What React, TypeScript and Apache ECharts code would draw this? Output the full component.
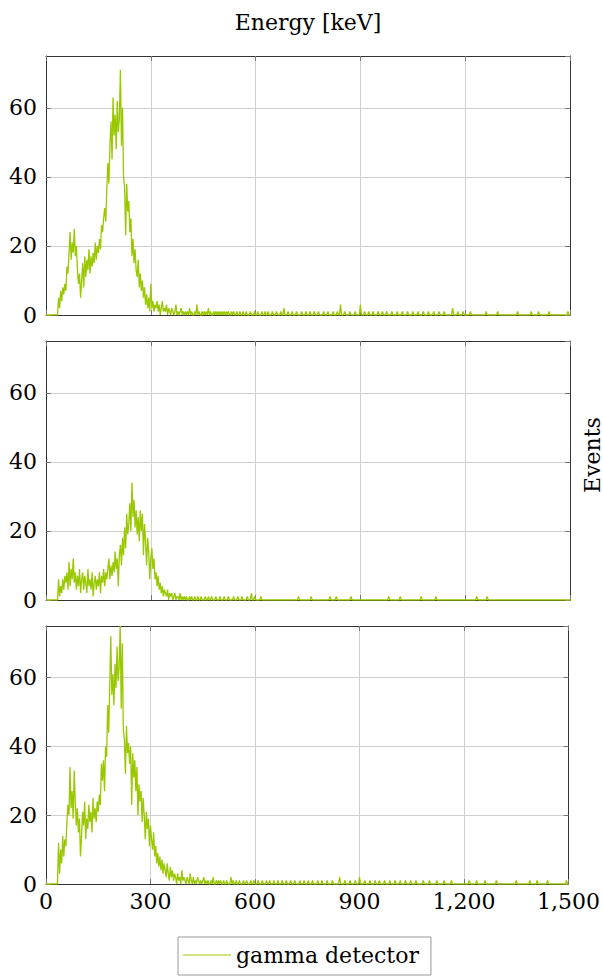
import React, { useEffect, useRef } from 'react';
import * as echarts from 'echarts';

// ---- data ----
const BIN = 3; // keV per bin
const MAIN_START = 36; // keV of first value in the dense arrays
const X_MAX = 1500;
const Y_MAX = 75;
const SERIES_NAME = 'gamma detector';
const X_LABEL = 'Energy [keV]';
const Y_LABEL = 'Events';

// Panel 1 counts, 36..450 keV, step 3 keV
const panel1Main = [
  5, 2, 7, 4, 8, 6, 9, 7,
  14, 12, 18, 24,
  16, 21, 18, 25, 17, 20,
  13, 9, 12, 5, 10,
  15, 8, 17, 11, 16, 13,
  19, 12, 17, 14, 18, 15, 21,
  16, 20, 18, 22, 19, 26,
  24, 28, 31, 27, 36,
  44, 38, 49, 56, 45,
  63, 52, 58, 48, 62, 53, 57,
  71, 49, 60, 40,
  37, 23, 38, 30, 33, 24,
  28, 17, 22, 15, 19, 13,
  11, 16, 8, 12, 7, 10, 5,
  8, 3, 6, 2, 5, 1, 9,
  2, 4, 1, 3, 2, 4, 1, 3, 0, 2, 4, 1, 2,
  1, 3, 0, 2, 1, 0, 2, 1, 0, 1, 3, 0, 1, 0, 1, 2, 0, 1, 0, 1,
  0, 1, 0, 2, 0, 1, 0, 0, 1, 0, 3, 0, 1, 0, 0, 1, 0,
];
// Panel 1 sparse tail [keV, counts]
const panel1Tail: [number, number][] = [
  [453, 1], [459, 1], [465, 2], [471, 1], [480, 1], [486, 1], [492, 1], [498, 1], [504, 1], [510, 1],
  [516, 1], [522, 1], [531, 1], [537, 1], [546, 1], [555, 1], [564, 1], [573, 1], [585, 1], [597, 1],
  [606, 1], [618, 1], [627, 1], [636, 1], [648, 1], [660, 1], [672, 1], [681, 2], [693, 1], [705, 1],
  [717, 1], [732, 1], [744, 1], [756, 1], [768, 1], [780, 1], [795, 1], [807, 1], [822, 1], [834, 1],
  [843, 3], [855, 1], [870, 1], [885, 1], [900, 3], [912, 1], [924, 1], [936, 1], [951, 1], [963, 1],
  [975, 1], [990, 1], [1005, 1], [1020, 1], [1035, 1], [1050, 1], [1065, 1], [1080, 1], [1095, 1],
  [1110, 1], [1125, 1], [1140, 1], [1164, 2], [1179, 1], [1194, 1], [1215, 1], [1260, 1], [1293, 1],
  [1350, 1], [1389, 1], [1410, 1], [1440, 1], [1494, 1],
];

// Panel 2
const panel2Main = [
  6, 1, 4, 2, 6, 3, 7, 5,
  8, 3, 11, 4,
  9, 6, 12, 5, 8, 3,
  7, 4, 9, 2, 6,
  8, 3, 7, 5, 2, 9,
  4, 6, 3, 8, 1, 5, 7,
  3, 6, 4, 8, 2, 7,
  5, 9, 4, 8, 6,
  9, 12, 6, 10, 7,
  11, 8, 14, 9, 12, 4, 13,
  16, 10, 18, 13,
  21, 15, 25, 19, 22, 28,
  20, 34, 24, 29, 21, 26,
  19, 24, 17, 26, 20, 25, 13,
  22, 17, 10, 18, 14, 6, 12,
  15, 9, 12, 6, 8, 4, 7, 3, 5, 2, 4, 1, 3,
  2, 1, 3, 0, 2, 1, 2, 0, 1, 2, 0, 1, 1, 0, 2, 0, 1, 0, 1, 0,
  1, 0, 0, 1, 0, 1, 0, 0, 1, 0, 0, 1, 0, 0, 1, 0, 0,
];
const panel2Tail: [number, number][] = [
  [456, 1], [465, 1], [474, 1], [486, 1], [498, 1], [510, 1], [522, 1], [537, 1], [549, 1], [561, 1],
  [576, 1], [588, 2], [597, 1], [615, 1], [723, 1], [759, 1], [813, 1], [831, 1], [873, 1], [981, 1],
  [1014, 1], [1074, 1], [1116, 1], [1233, 1], [1263, 1],
];

// Panel 3
const panel3Main = [
  12, 3, 10, 6, 14, 8, 13, 11,
  18, 23, 20, 34,
  22, 27, 19, 33, 24, 17,
  22, 15, 19, 8, 14,
  21, 17, 24, 13, 19, 16,
  23, 18, 21, 15, 25, 19, 22,
  18, 24, 21, 26, 23, 35,
  30, 36, 27, 40, 37,
  52, 44, 58, 72, 55,
  61, 52, 64, 57, 69, 59, 63,
  75, 51, 70, 45,
  42, 32, 46, 38, 41, 35,
  40, 23, 38, 31, 36, 27,
  34, 20, 29, 24, 27, 18, 25,
  20, 13, 21, 16, 19, 11, 17,
  13, 10, 15, 8, 11, 6, 9, 5, 8, 4, 7, 3, 6,
  4, 2, 6, 3, 1, 5, 2, 4, 1, 3, 2, 0, 3, 1, 2, 0, 4, 1, 2, 1,
  0, 2, 1, 0, 3, 1, 0, 2, 0, 1, 0, 2, 1, 0, 1, 0, 1,
];
const panel3Tail: [number, number][] = [
  [453, 2], [459, 1], [465, 1], [474, 1], [480, 2], [489, 1], [495, 1], [501, 1], [510, 1], [519, 1],
  [531, 2], [537, 1], [546, 1], [555, 1], [567, 1], [576, 1], [588, 1], [597, 1], [609, 1], [621, 1],
  [633, 1], [642, 1], [654, 1], [666, 1], [678, 1], [690, 1], [702, 1], [714, 1], [729, 1], [741, 1],
  [753, 1], [765, 1], [780, 1], [792, 1], [807, 1], [822, 1], [843, 2], [858, 1], [873, 1], [888, 1],
  [900, 2], [915, 1], [930, 1], [945, 1], [957, 1], [972, 1], [987, 1], [1002, 1], [1017, 1], [1032, 1],
  [1047, 1], [1062, 1], [1083, 1], [1101, 1], [1122, 1], [1143, 1], [1164, 1], [1215, 1], [1236, 1],
  [1260, 1], [1293, 1], [1350, 1], [1389, 1], [1410, 1], [1440, 1], [1494, 1],
];

function buildHistogram(main: number[], tail: [number, number][]): [number, number][] {
  const tailMap = new Map<number, number>();
  tail.forEach(([e, h]) => tailMap.set(Math.round(e / BIN) * BIN, h));
  const mainEnd = MAIN_START + (main.length - 1) * BIN;
  const out: [number, number][] = [];
  for (let x = 0; x <= X_MAX; x += BIN) {
    let y = 0;
    if (x >= MAIN_START && x <= mainEnd) y = main[(x - MAIN_START) / BIN];
    else if (tailMap.has(x)) y = tailMap.get(x) as number;
    out.push([x, y]);
  }
  return out;
}

const FONT = 'DejaVu Serif';
const LINE_COLOR = '#99c800';

export default function App() {
  const ref = useRef<HTMLDivElement>(null);
  useEffect(() => {
    document.body.style.margin = '0';
    if (!ref.current) return;
    const chart = echarts.init(ref.current, undefined, { renderer: 'svg' });
    const panels = [
      { top: 56, height: 259, data: buildHistogram(panel1Main, panel1Tail) },
      { top: 341, height: 259, data: buildHistogram(panel2Main, panel2Tail) },
      { top: 626, height: 258, data: buildHistogram(panel3Main, panel3Tail) },
    ];
    const frame = { show: true, onZero: false, lineStyle: { color: '#333', width: 1 } };
    const tick = { show: true, inside: true, length: 5, lineStyle: { color: '#777' } };
    const xAxes: any[] = [];
    const yAxes: any[] = [];
    panels.forEach((p, i) => {
      const base = { type: 'value', gridIndex: i, min: 0, max: X_MAX, interval: 300 };
      xAxes.push({
        ...base,
        position: 'bottom',
        axisLine: frame,
        axisTick: tick,
        axisLabel: {
          show: i === panels.length - 1,
          formatter: (v: number) => v.toLocaleString('en-US'),
          fontFamily: FONT,
          fontSize: 22,
          color: '#000',
          margin: 6,
        },
        splitLine: { show: true, lineStyle: { color: '#d0d0d0', width: 1 } },
      });
      xAxes.push({
        ...base,
        position: 'top',
        axisLine: frame,
        axisTick: tick,
        axisLabel: { show: false },
        splitLine: { show: false },
      });
      const ybase = { type: 'value', gridIndex: i, min: 0, max: Y_MAX, interval: 20 };
      yAxes.push({
        ...ybase,
        position: 'left',
        axisLine: frame,
        axisTick: tick,
        axisLabel: {
          show: true,
          showMaxLabel: false,
          fontFamily: FONT,
          fontSize: 22,
          color: '#000',
          margin: 9,
        },
        splitLine: { show: true, lineStyle: { color: '#d0d0d0', width: 1 } },
      });
      yAxes.push({
        ...ybase,
        position: 'right',
        axisLine: frame,
        axisTick: tick,
        axisLabel: { show: false },
        splitLine: { show: false },
      });
    });

    chart.setOption({
      animation: false,
      backgroundColor: '#fff',
      grid: panels.map((p) => ({ left: 46, width: 524, top: p.top, height: p.height })),
      xAxis: xAxes,
      yAxis: yAxes,
      legend: {
        data: [SERIES_NAME],
        left: 178,
        top: 937,
        icon: 'rect',
        itemWidth: 48,
        itemHeight: 1,
        borderColor: '#999',
        borderWidth: 1,
        borderRadius: 0,
        padding: [7, 12, 9, 5],
        textStyle: { fontFamily: FONT, fontSize: 22, color: '#000' },
      },
      graphic: [
        {
          type: 'text',
          x: 308,
          y: 22,
          style: {
            text: X_LABEL,
            fontFamily: FONT,
            fontSize: 22,
            fill: '#000',
            textAlign: 'center',
            textVerticalAlign: 'middle',
          },
        },
        {
          type: 'text',
          x: 592,
          y: 455,
          rotation: Math.PI / 2,
          style: {
            text: Y_LABEL,
            fontFamily: FONT,
            fontSize: 22,
            fill: '#000',
            textAlign: 'center',
            textVerticalAlign: 'middle',
          },
        },
      ],
      series: panels.map((p, i) => ({
        name: SERIES_NAME,
        type: 'line',
        xAxisIndex: i * 2,
        yAxisIndex: i * 2,
        data: p.data,
        symbol: 'none',
        lineStyle: { color: LINE_COLOR, width: 1.3 },
        itemStyle: { color: LINE_COLOR },
      })),
    });
    return () => chart.dispose();
  }, []);
  return <div ref={ref} style={{ width: 603, height: 976 }} />;
}
